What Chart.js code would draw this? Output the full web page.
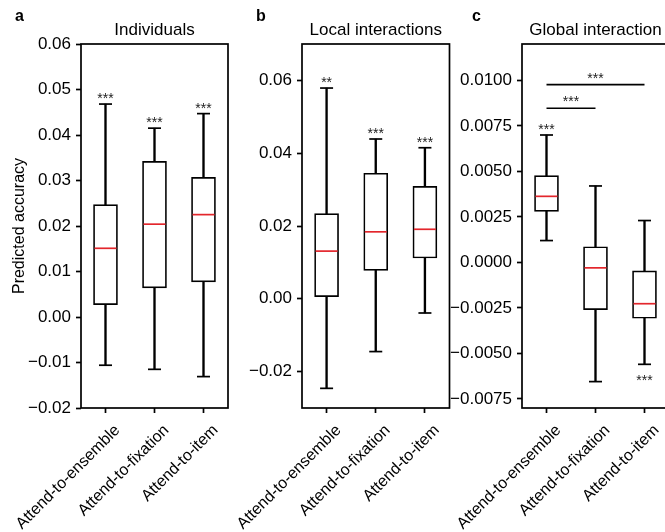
<!DOCTYPE html>
<html>
<head>
<meta charset="utf-8">
<script src="https://cdn.jsdelivr.net/npm/chart.js@4.4.1/dist/chart.umd.min.js"></script>
<style>
  body { margin: 0; width: 665px; height: 532px; overflow: hidden; background: #fff; position: relative; }
  canvas { position: absolute; top: 0; }
</style>
</head>
<body>
<canvas id="chartA" width="232" height="532" style="left:0px"></canvas>
<canvas id="chartB" width="228" height="532" style="left:225px"></canvas>
<canvas id="chartC" width="245" height="532" style="left:440px"></canvas>
<script>
const categories = ["Attend-to-ensemble", "Attend-to-fixation", "Attend-to-item"];

// panel a - individuals
const a_ticks = [-0.02, -0.01, 0.00, 0.01, 0.02, 0.03, 0.04, 0.05, 0.06];
const a_low = [-0.0106, -0.0115, -0.0131];
const a_q1 = [0.0027, 0.0064, 0.0077];
const a_median = [0.0151, 0.0204, 0.0225];
const a_q3 = [0.0247, 0.0342, 0.0307];
const a_high = [0.0468, 0.0415, 0.0447];
const a_stars_above = ["***", "***", "***"];
const a_stars_below = ["", "", ""];

// panel b - local interactions
const b_ticks = [-0.02, 0.00, 0.02, 0.04, 0.06];
const b_low = [-0.0246, -0.0145, -0.0039];
const b_q1 = [0.0006, 0.0078, 0.0112];
const b_median = [0.0131, 0.0184, 0.0191];
const b_q3 = [0.0234, 0.0345, 0.0309];
const b_high = [0.0579, 0.0439, 0.0415];
const b_stars_above = ["**", "***", "***"];
const b_stars_below = ["", "", ""];

// panel c - global interaction
const c_ticks = [-0.0075, -0.0050, -0.0025, 0.0000, 0.0025, 0.0050, 0.0075, 0.0100];
const c_low = [0.0012, -0.00655, -0.0056];
const c_q1 = [0.0028, -0.0026, -0.00307];
const c_median = [0.00363, -0.0003, -0.00227];
const c_q3 = [0.00477, 0.00086, -0.00047];
const c_high = [0.0070, 0.0042, 0.0023];
const c_stars_above = ["***", "", ""];
const c_stars_below = ["", "", "***"];
const c_brackets = [
    { from: 0, to: 2, y: 0.00977, text: "***" },
    { from: 0, to: 1, y: 0.00847, text: "***" }
];

const MEDIAN_RED = "#e3262c";
const LINE_W = 1.7;
const FONT = "'Liberation Sans', Arial, sans-serif";

Chart.defaults.font.family = FONT;
Chart.defaults.color = "#000";

// draws caps, medians, stars, brackets, frame, panel letter and title
const boxExtras = {
    id: "boxExtras",
    afterDatasetsDraw(chart, args, opts){
        const ctx = chart.ctx;
        const area = chart.chartArea;
        const x = chart.scales.x;
        const y = chart.scales.y;

        const hline = (x0, x1, yy) => {
            ctx.beginPath();
            ctx.moveTo(x0, yy);
            ctx.lineTo(x1, yy);
            ctx.stroke();
        };

        ctx.save();
        ctx.lineWidth = LINE_W;

        // whisker caps
        ctx.strokeStyle = "#000";
        opts.low.forEach((v, i) => {
            const cx = x.getPixelForValue(i);
            hline(cx - 6.5, cx + 6.5, y.getPixelForValue(opts.low[i]));
            hline(cx - 6.5, cx + 6.5, y.getPixelForValue(opts.high[i]));
        });

        // medians
        ctx.strokeStyle = MEDIAN_RED;
        opts.median.forEach((v, i) => {
            const cx = x.getPixelForValue(i);
            hline(cx - 11, cx + 11, y.getPixelForValue(v));
        });

        // significance stars
        ctx.fillStyle = "#222";
        ctx.font = "14px " + FONT;
        ctx.textAlign = "center";
        ctx.textBaseline = "alphabetic";
        opts.stars_above.forEach((s, i) => {
            if(s) ctx.fillText(s, x.getPixelForValue(i), y.getPixelForValue(opts.high[i]) - 1);
        });
        opts.stars_below.forEach((s, i) => {
            if(s) ctx.fillText(s, x.getPixelForValue(i), y.getPixelForValue(opts.low[i]) + 21);
        });

        // comparison brackets
        ctx.strokeStyle = "#000";
        opts.brackets.forEach((b) => {
            const x0 = x.getPixelForValue(b.from);
            const x1 = x.getPixelForValue(b.to);
            const yy = y.getPixelForValue(b.y);
            hline(x0, x1, yy);
            ctx.fillText(b.text, (x0 + x1) / 2, yy - 2);
        });

        // full frame round the plot
        ctx.strokeStyle = "#000";
        ctx.strokeRect(area.left, area.top, area.right - area.left, area.bottom - area.top);
        ctx.restore();
    },
    afterDraw(chart, args, opts){
        const ctx = chart.ctx;
        const area = chart.chartArea;
        ctx.save();
        ctx.fillStyle = "#000";
        ctx.textBaseline = "alphabetic";

        ctx.font = "bold 16px " + FONT;
        ctx.textAlign = "left";
        ctx.fillText(opts.letter, area.left + opts.letter_dx, 21);

        ctx.font = "17px " + FONT;
        ctx.textAlign = "center";
        ctx.fillText(opts.title, (area.left + area.right) / 2, 35);
        ctx.restore();
    }
};

function makeBoxChart(canvas_id, cfg){
    const ctx = document.getElementById(canvas_id);
    const whiskers = cfg.low.map((v, i) => [cfg.low[i], cfg.high[i]]);
    const boxes = cfg.q1.map((v, i) => [cfg.q1[i], cfg.q3[i]]);

    return new Chart(ctx, {
        type: "bar",
        data: {
            labels: categories,
            datasets: [{
                data: boxes,
                backgroundColor: "#fff",
                borderColor: "#000",
                borderWidth: LINE_W,
                borderSkipped: false,
                barThickness: 24,
                grouped: false,
                order: 0
            }, {
                data: whiskers,
                backgroundColor: "#000",
                borderWidth: 0,
                barThickness: LINE_W,
                grouped: false,
                order: 1
            }]
        },
        options: {
            responsive: false,
            animation: false,
            layout: {
                padding: { top: 44, right: cfg.pad_right, bottom: 0, left: 0 }
            },
            plugins: {
                legend: { display: false },
                tooltip: { enabled: false },
                boxExtras: {
                    low: cfg.low,
                    high: cfg.high,
                    median: cfg.median,
                    stars_above: cfg.stars_above,
                    stars_below: cfg.stars_below,
                    brackets: cfg.brackets || [],
                    letter: cfg.letter,
                    letter_dx: cfg.letter_dx,
                    title: cfg.title
                }
            },
            scales: {
                x: {
                    offset: true,
                    border: { display: false },
                    grid: {
                        drawOnChartArea: false,
                        offset: false,
                        tickLength: 5,
                        tickWidth: LINE_W,
                        color: "#000"
                    },
                    ticks: {
                        autoSkip: false,
                        minRotation: 45,
                        maxRotation: 45,
                        padding: 8,
                        labelOffset: 12,
                        font: { size: 16 }
                    },
                    afterFit: function(scale){
                        scale.paddingLeft = 0;
                        scale.paddingRight = 0;
                        scale.height = 124;
                    }
                },
                y: {
                    min: cfg.y_min,
                    max: cfg.y_max,
                    border: { display: false },
                    grid: {
                        drawOnChartArea: false,
                        tickLength: 5,
                        tickWidth: LINE_W,
                        color: "#000"
                    },
                    ticks: {
                        padding: 5,
                        font: { size: 17 },
                        callback: function(value){
                            const s = Math.abs(value).toFixed(cfg.decimals);
                            return value < -1e-9 ? "\u2212" + s : s;
                        }
                    },
                    title: {
                        display: !!cfg.y_title,
                        text: cfg.y_title || "",
                        font: { size: 16 },
                        padding: { top: 10, bottom: 0 }
                    },
                    afterBuildTicks: function(scale){
                        scale.ticks = cfg.ticks.map((v) => ({ value: v }));
                    },
                    afterFit: function(scale){
                        scale.width = cfg.axis_width;
                    }
                }
            }
        },
        plugins: [boxExtras]
    });
}

makeBoxChart("chartA", {
    low: a_low, q1: a_q1, median: a_median, q3: a_q3, high: a_high,
    stars_above: a_stars_above, stars_below: a_stars_below,
    ticks: a_ticks, y_min: -0.02, y_max: 0.06, decimals: 2,
    y_title: "Predicted accuracy",
    letter: "a", letter_dx: -66, title: "Individuals",
    axis_width: 81, pad_right: 4
});

makeBoxChart("chartB", {
    low: b_low, q1: b_q1, median: b_median, q3: b_q3, high: b_high,
    stars_above: b_stars_above, stars_below: b_stars_below,
    ticks: b_ticks, y_min: -0.03, y_max: 0.07, decimals: 2,
    letter: "b", letter_dx: -46, title: "Local interactions",
    axis_width: 77, pad_right: 3.5
});

makeBoxChart("chartC", {
    low: c_low, q1: c_q1, median: c_median, q3: c_q3, high: c_high,
    stars_above: c_stars_above, stars_below: c_stars_below,
    brackets: c_brackets,
    ticks: c_ticks, y_min: -0.008, y_max: 0.012, decimals: 4,
    letter: "c", letter_dx: -50, title: "Global interaction",
    axis_width: 82, pad_right: 16
});
</script>
</body>
</html>
